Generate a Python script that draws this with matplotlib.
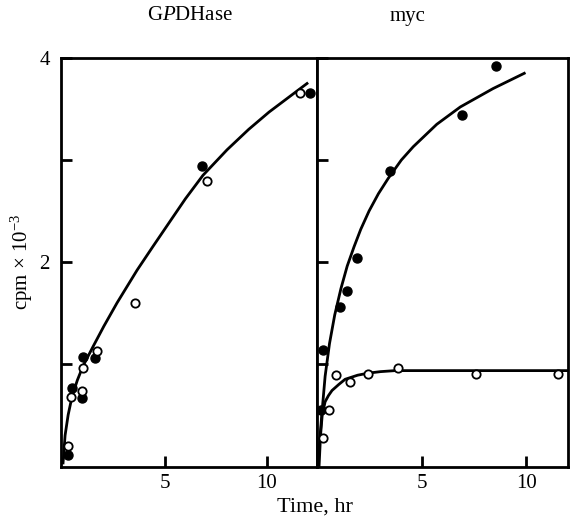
import numpy as np
import matplotlib.pyplot as plt

plt.rcParams['font.family'] = ['Liberation Serif', 'DejaVu Serif']
plt.rcParams['mathtext.fontset'] = 'custom'
plt.rcParams['mathtext.it'] = 'Liberation Serif:italic'
plt.rcParams['mathtext.rm'] = 'Liberation Serif'

# GPDHase panel (time in hr, cpm x 10^-3)
gpd_filled_x = [0.25, 0.44, 0.93, 0.98, 1.57, 6.81, 12.1]
gpd_filled_y = [0.11, 0.76, 0.67, 1.07, 1.06, 2.94, 3.66]
gpd_open_x = [0.25, 0.39, 0.93, 0.98, 1.67, 3.53, 7.06, 11.6]
gpd_open_y = [0.20, 0.68, 0.74, 0.96, 1.13, 1.60, 2.79, 3.66]
gpd_curve_x = [0.0, 0.1, 0.25, 0.44, 0.7, 0.98, 1.47, 2.0, 2.65, 3.63, 4.4, 5.25,
               6.0, 6.86, 8.04, 9.1, 10.1, 11.96]
gpd_curve_y = [0.03, 0.30, 0.50, 0.68, 0.84, 0.98, 1.17, 1.37, 1.60, 1.92, 2.15, 2.40,
               2.62, 2.85, 3.10, 3.30, 3.47, 3.75]

# myc panel
myc_filled_x = [0.15, 0.25, 1.06, 1.39, 1.88, 3.46, 6.9, 8.55]
myc_filled_y = [0.55, 1.14, 1.56, 1.72, 2.04, 2.89, 3.44, 3.92]
myc_open_x = [0.25, 0.53, 0.87, 1.54, 2.4, 3.85, 7.6, 11.5]
myc_open_y = [0.27, 0.55, 0.89, 0.82, 0.90, 0.96, 0.90, 0.90]
myc_fcurve_x = [0.0, 0.1, 0.2, 0.34, 0.55, 0.8, 1.1, 1.4, 1.73, 2.05, 2.45, 2.9,
                3.37, 4.0, 4.57, 5.7, 6.83, 8.4, 9.9]
myc_fcurve_y = [0.03, 0.30, 0.55, 0.88, 1.20, 1.48, 1.74, 1.96, 2.15, 2.32, 2.50, 2.67,
                2.82, 3.00, 3.13, 3.35, 3.52, 3.70, 3.85]
myc_ocurve_x = [0.05, 0.12, 0.2, 0.34, 0.5, 0.67, 1.0, 1.3, 1.9, 2.4, 3.0, 3.7, 6.0, 12.0]
myc_ocurve_y = [0.0, 0.30, 0.50, 0.63, 0.69, 0.74, 0.80, 0.85, 0.89, 0.91, 0.925, 0.935,
                0.935, 0.935]

fig = plt.figure(figsize=(5.7, 5.2), dpi=100)
ax1 = fig.add_axes([61/570, 1-467/520, 256/570, 409/520])
ax2 = fig.add_axes([317/570, 1-467/520, 251/570, 409/520])


def style(ax, xmin, xmax):
    ax.set_xlim(xmin, xmax)
    ax.set_ylim(-0.01, 4.0)
    for s in ax.spines.values():
        s.set_linewidth(2)
    ax.set_xticks([5, 10])
    ax.set_xticklabels(['5', '10'])
    ax.set_yticks([1, 2, 3, 4])
    ax.tick_params(axis='x', direction='in', length=8, width=2, labelsize=15, pad=5)
    ax.tick_params(axis='y', direction='in', length=8, width=2, labelsize=15, pad=8)


style(ax1, -0.1, 12.45)
style(ax2, -0.05, 12.0)
ax1.set_yticklabels(['', '2', '', '4'])
ax2.set_yticklabels([])

ax1.plot(gpd_curve_x, gpd_curve_y, color='black', lw=2, zorder=2)
ax1.plot(gpd_filled_x, gpd_filled_y, 'o', color='black', ms=6.5, zorder=3)
ax1.plot(gpd_open_x, gpd_open_y, 'o', mfc='white', mec='black', mew=1.3, ms=6, zorder=3)

ax2.plot(myc_fcurve_x, myc_fcurve_y, color='black', lw=2, zorder=2)
ax2.plot(myc_ocurve_x, myc_ocurve_y, color='black', lw=2, zorder=2)
ax2.plot(myc_filled_x, myc_filled_y, 'o', color='black', ms=6.5, zorder=3)
ax2.plot(myc_open_x, myc_open_y, 'o', mfc='white', mec='black', mew=1.3, ms=6, zorder=3)

fig.text(190/570, 1-16/520, r'G$\it{P}$DHase', ha='center', va='center', fontsize=15)
fig.text(408/570, 1-16/520, 'myc', ha='center', va='center', fontsize=15)
fig.text(315/570, 1-507/520, 'Time, hr', ha='center', va='center', fontsize=16)
fig.text(22/570, 1-262/520, 'cpm × 10$^{-3}$', ha='center', va='center',
         rotation=90, fontsize=15)

fig.savefig('out.png', dpi=100)
